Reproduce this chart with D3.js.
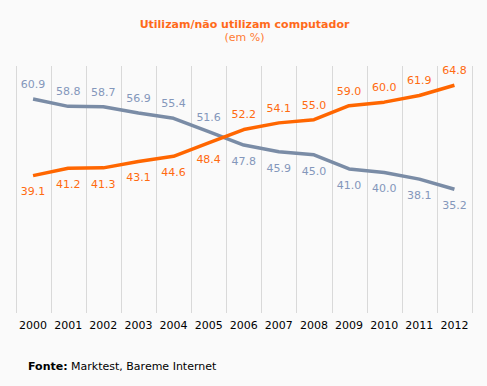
<!DOCTYPE html>
<html><head><meta charset="utf-8">
<script src="https://cdn.jsdelivr.net/npm/d3@7"></script>
<style>
html,body{margin:0;padding:0;background:#fafafa;}
svg{display:block;font-family:Verdana,"DejaVu Sans",sans-serif;}
</style></head>
<body>
<svg id="c" width="487" height="386"></svg>
<script>
const years = ["2000","2001","2002","2003","2004","2005","2006","2007","2008","2009","2010","2011","2012"];
const utilizam = [39.1,41.2,41.3,43.1,44.6,48.4,52.2,54.1,55.0,59.0,60.0,61.9,64.8];
const naoUtilizam = [60.9,58.8,58.7,56.9,55.4,51.6,47.8,45.9,45.0,41.0,40.0,38.1,35.2];
const titleText = "Utilizam/não utilizam computador";
const subtitleText = "(em %)";

const svg = d3.select("#c");
const x = d3.scaleBand().domain(years).range([15.5, 472]);
const y = d3.scaleLinear().domain([0, 70]).range([313, 67]);

// background
svg.append("rect").attr("width",487).attr("height",386).attr("fill","#fafafa");

// vertical gridlines at band edges
const edges = years.map(d => x(d)).concat([x(years[years.length-1]) + x.bandwidth()]);
svg.append("g").selectAll("line").data(edges).join("line")
  .attr("x1", d => Math.round(d)+0.5).attr("x2", d => Math.round(d)+0.5)
  .attr("y1", 66).attr("y2", 313)
  .attr("stroke", "#d9d9d9").attr("stroke-width", 1);

// x axis labels
const xAxis = d3.axisBottom(x).tickSize(0).tickPadding(0);
const gx = svg.append("g").attr("transform","translate(0,320)").call(xAxis);
gx.select(".domain").remove();
gx.selectAll("text").attr("font-size","11px").attr("fill","#000")
  .attr("font-family","Verdana, 'DejaVu Sans', sans-serif").attr("dy","0.7em").attr("y",1);

const cx = d => x(d) + x.bandwidth()/2;
const line = d3.line().x(d => cx(d.year)).y(d => y(d.v));

const gridNao = years.map((yr,i)=>({year:yr, v:naoUtilizam[i], other:utilizam[i]}));
const gridUt = years.map((yr,i)=>({year:yr, v:utilizam[i], other:naoUtilizam[i]}));

svg.append("path").datum(gridNao).attr("d", line)
  .attr("fill","none").attr("stroke","#7a8ca6").attr("stroke-width",3.5).attr("stroke-linejoin","round");
svg.append("path").datum(gridUt).attr("d", line)
  .attr("fill","none").attr("stroke","#ff6600").attr("stroke-width",3.5).attr("stroke-linejoin","round");

function labels(data, color){
  svg.append("g").selectAll("text").data(data).join("text")
    .attr("x", d => cx(d.year))
    .attr("y", d => y(d.v) + (d.v >= d.other ? -15 : 16))
    .attr("dy","0.35em")
    .attr("text-anchor","middle")
    .attr("font-size","11px")
    .attr("fill", color)
    .text(d => d.v.toFixed(1));
}
labels(gridNao, "#8497bb");
labels(gridUt, "#ff6a10");

// title
svg.append("text").attr("x",244.5).attr("y",24).attr("dy","0.35em").attr("text-anchor","middle")
  .attr("font-size","11px").attr("font-weight","bold").attr("fill","#ff6a1a").text(titleText);
svg.append("text").attr("x",244.5).attr("y",37).attr("dy","0.35em").attr("text-anchor","middle")
  .attr("font-size","11px").attr("fill","#ff7a33").text(subtitleText);

// source
const src = svg.append("text").attr("x",28).attr("y",370).attr("font-size","11px").attr("fill","#000");
src.append("tspan").attr("font-weight","bold").text("Fonte:");
src.append("tspan").text(" Marktest, Bareme Internet");
</script>
</body></html>
